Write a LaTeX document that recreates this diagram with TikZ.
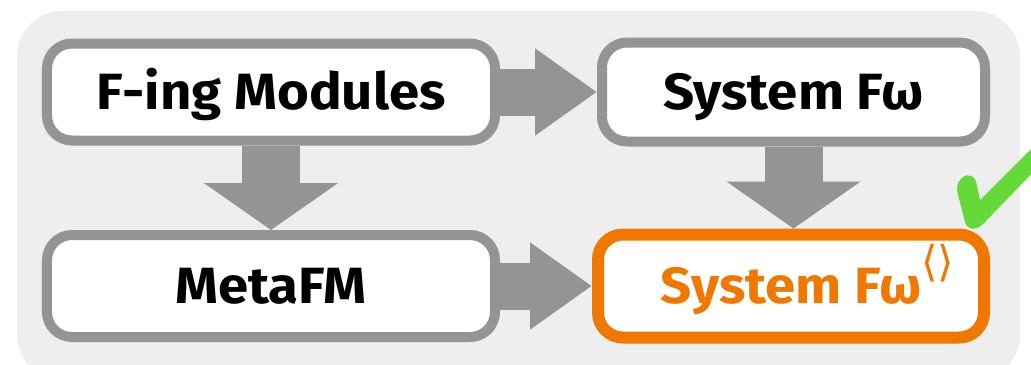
\documentclass[tikz,border=0pt]{standalone}
\usepackage{fontspec}
\setmainfont{Fira Sans}[FakeStretch=1.07]
\newfontfamily\brfont{DejaVu Sans}
\usetikzlibrary{arrows.meta}
\definecolor{boxgray}{HTML}{949494}
\definecolor{bggray}{HTML}{EEEEEE}
\definecolor{fworange}{HTML}{F07800}
\definecolor{tickgreen}{HTML}{66D93A}
\tikzset{
	sysbox/.style={draw=boxgray, line width=2mm, fill=white, rounded corners=5mm, inner sep=0pt,
		text height=20.4pt, text depth=0pt, font=\bfseries\fontsize{29}{32}\selectfont},
	goal/.style={sysbox, draw=fworange, text=fworange, line width=2.4mm},
	harrow/.style={boxgray, line width=9.4mm, -{Triangle[width=16.6mm, length=12.4mm]}},
	varrow/.style={boxgray, line width=11.6mm, -{Triangle[width=26.4mm, length=9.4mm]}},
}
\newcommand{\brackets}{\rlap{\raisebox{5.4mm}{\brfont\mdseries\fontsize{24}{28}\selectfont ⟨⟩}}}
\begin{document}
\begin{tikzpicture}[x=0.2mm, y=-0.2mm]
	\useasboundingbox (0,0) rectangle (1031,364);
	\fill[bggray, rounded corners=9mm] (17,11) rectangle (1020,380);
	\node[sysbox, minimum width=89.6mm, minimum height=19.4mm] (fing) at (271,92) {F-ing Modules};
	\node[sysbox, minimum width=76.6mm, minimum height=19.8mm] (fomega) at (793.5,92) {System Fω};
	\node[sysbox, minimum width=89.6mm, minimum height=20.4mm] (meta) at (271,286) {MetaFM};
	\node[goal, minimum width=77.2mm, minimum height=20.6mm] (target) at (791,286) {System Fω\brackets};
	\draw[harrow] (fing.east) -- (fomega.west);
	\draw[harrow] (meta.east) -- (target.west);
	\draw[varrow] (fing.south) -- (meta.north);
	\draw[varrow] (fomega.south) -- (fomega.south |- target.north);
	\fill[tickgreen] (962,178) .. controls (968,172) and (976,176) .. (977,186) -- (980,200) -- (1040,140)
		-- (1040,165) -- (985,222) .. controls (978,230) and (968,232) .. (965,222) -- (958,195)
		.. controls (956,188) and (957,182) .. (962,178) -- cycle;
\end{tikzpicture}
\end{document}
